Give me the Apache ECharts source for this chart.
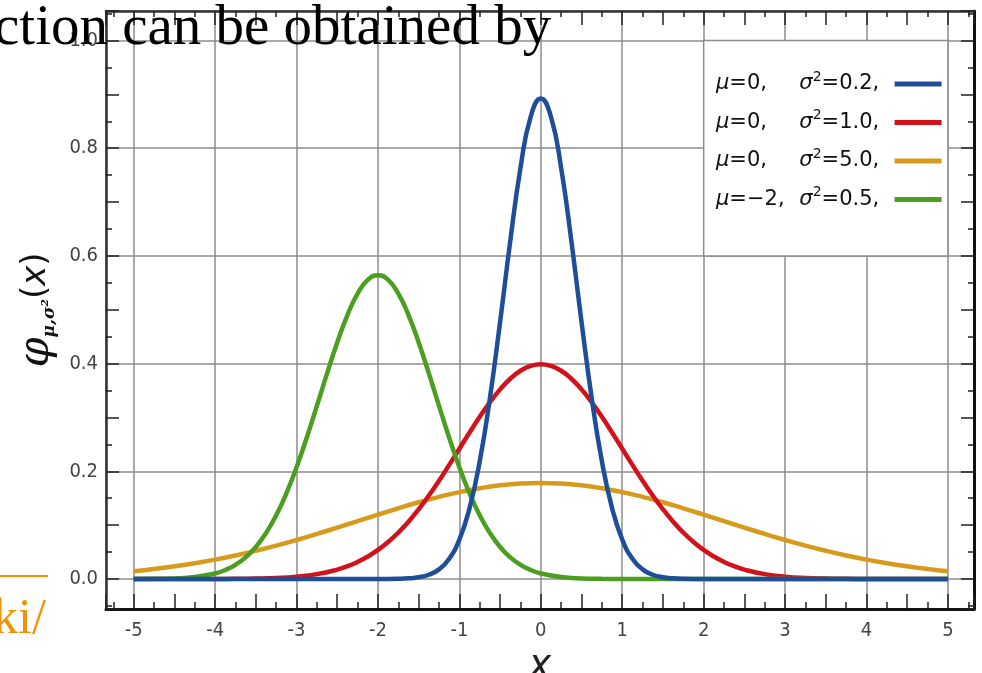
<!DOCTYPE html>
<html><head><meta charset="utf-8">
<script src="https://cdn.jsdelivr.net/npm/echarts@6/dist/echarts.min.js"></script>
<style>html,body{margin:0;padding:0;background:#fff}#c{width:982px;height:673px}</style>
</head><body><div id="c"></div><script>
// ---- data ----
const orangeX = [-5,-4.75,-4.5,-4.25,-4,-3.75,-3.5,-3.25,-3,-2.75,-2.5,-2.25,-2,-1.75,-1.5,-1.25,-1,-0.75,-0.5,-0.25,0,
  0.25,0.5,0.75,1,1.25,1.5,1.75,2,2.25,2.5,2.75,3,3.25,3.5,3.75,4,4.25,4.5,4.75,5];
const orangeY = [0.0146,0.0187,0.0235,0.0293,0.036,0.0437,0.0524,0.062,0.0725,0.0837,0.0955,0.1075,0.1196,0.1313,0.1425,0.1526,0.1614,0.1686,0.174,0.1773,0.1784,
  0.1773,0.174,0.1686,0.1614,0.1526,0.1425,0.1313,0.1196,0.1075,0.0955,0.0837,0.0725,0.062,0.0524,0.0437,0.036,0.0293,0.0235,0.0187,0.0146];
const redX = [-5,-4.5,-4,-3.75,-3.5,-3.25,-3,-2.75,
  -2.5,-2.375,-2.25,-2.125,-2,-1.875,-1.75,-1.625,-1.5,-1.375,-1.25,-1.125,-1,-0.875,-0.75,-0.625,-0.5,-0.375,-0.25,-0.125,0,
  0.125,0.25,0.375,0.5,0.625,0.75,0.875,1,1.125,1.25,1.375,1.5,1.625,1.75,1.875,2,2.125,2.25,2.375,2.5,
  2.75,3,3.25,3.5,3.75,4,4.5,5];
const redY = [0,0,0.0001,0.0004,0.0009,0.002,0.0044,0.0091,
  0.0175,0.0238,0.0317,0.0417,0.054,0.0688,0.0863,0.1065,0.1295,0.155,0.1826,0.2119,0.242,0.2721,0.3011,0.3282,0.3521,0.3719,0.3867,0.3958,0.3989,
  0.3958,0.3867,0.3719,0.3521,0.3282,0.3011,0.2721,0.242,0.2119,0.1826,0.155,0.1295,0.1065,0.0863,0.0688,0.054,0.0417,0.0317,0.0238,0.0175,
  0.0091,0.0044,0.002,0.0009,0.0004,0.0001,0,0];
const greenX = [-5,-4.75,-4.5,-4.25,
  -4,-3.875,-3.75,-3.625,-3.5,-3.375,-3.25,-3.125,-3,-2.875,-2.75,-2.625,-2.5,-2.375,-2.25,-2.125,-2,
  -1.875,-1.75,-1.625,-1.5,-1.375,-1.25,-1.125,-1,-0.875,-0.75,-0.625,-0.5,-0.375,-0.25,-0.125,0,
  0.25,0.5,0.75,1,2,3,4,5];
const greenY = [0.0001,0.0003,0.0011,0.0036,
  0.0103,0.0168,0.0264,0.0402,0.0595,0.0852,0.1183,0.1591,0.2076,0.2624,0.3215,0.3818,0.4394,0.4902,0.53,0.5555,0.5642,
  0.5555,0.53,0.4902,0.4394,0.3818,0.3215,0.2624,0.2076,0.1591,0.1183,0.0852,0.0595,0.0402,0.0264,0.0168,0.0103,
  0.0036,0.0011,0.0003,0.0001,0,0,0,0];
const blueX = [-5,-4,-3,-2.5,-2,-1.75,-1.625,-1.5,-1.375,-1.25,-1.125,-1,-0.875,-0.75,-0.625,-0.5,-0.375,-0.25,-0.125,0,
  0.125,0.25,0.375,0.5,0.625,0.75,0.875,1,1.125,1.25,1.375,1.5,1.625,1.75,2,2.5,3,4,5];
const blueY = [0,0,0,0,0,0.0004,0.0012,0.0032,0.0079,0.0179,0.0377,0.0732,0.1316,0.2187,0.336,0.4775,0.6277,0.763,0.858,0.8921,
  0.858,0.763,0.6277,0.4775,0.336,0.2187,0.1316,0.0732,0.0377,0.0179,0.0079,0.0032,0.0012,0.0004,0,0,0,0,0];
const seriesKeys = ['blue','red','orange','green'];
const muText = ['0','0','0','\u22122'];
const varText = ['0.2','1.0','5.0','0.5'];
const legendBoxX = [2,5];
const legendBoxY = [1.0,0.6];

// ---- layout / style ----
const XMIN=-5.34, XMAX=5.32, YMIN=-0.0557, YMAX=1.0548;
const LBL = "'Liberation Sans Narrow','DejaVu Sans Condensed',sans-serif";
const COND = "'DejaVu Sans Condensed','DejaVu Sans',sans-serif";
const DV = "'DejaVu Sans',sans-serif";
const colors = {blue:'#1f4e98', red:'#d2111a', orange:'#d89a1c', green:'#4b9e1f'};
const pairs = (xs, ys) => xs.map((x,i)=>[x, ys[i]]);

function xTick(pos, step, len){
  return {type:'value', min:XMIN, max:XMAX, position:pos, minInterval:step, maxInterval:step,
    axisLine:{show:false,onZero:false}, axisTick:{show:true,inside:true,length:len,lineStyle:{color:'#222',width:1.5}},
    axisLabel:{show:false}, splitLine:{show:false}};
}
function yTick(pos, step, len){
  return {type:'value', min:YMIN, max:YMAX, position:pos, minInterval:step, maxInterval:step,
    axisLine:{show:false,onZero:false}, axisTick:{show:true,inside:true,length:len,lineStyle:{color:'#222',width:1.5}},
    axisLabel:{show:false}, splitLine:{show:false}};
}
const gridLine = {show:true, lineStyle:{color:'#8c8c8c', width:1.5}};
const legTxt = (extra) => Object.assign({fontFamily:DV, fontSize:21, color:'#111', lineHeight:28, align:'left'}, extra||{});

const chart = echarts.init(document.getElementById('c'), null, {renderer:'canvas'});
const option = {
  backgroundColor:'#fff',
  animation:false,
  grid:{left:106, top:11, right:8, bottom:64, containLabel:false, outerBoundsMode:'none'},
  xAxis:[
    {type:'value', min:XMIN, max:XMAX, position:'bottom', minInterval:1, maxInterval:1,
     axisLine:{show:true,onZero:false,lineStyle:{color:'#111',width:3}},
     axisTick:{show:false}, splitLine:gridLine,
     axisLabel:{show:true, margin:12, color:'#444', fontSize:20, fontFamily:LBL, showMinLabel:false, showMaxLabel:false},
     name:'x', nameLocation:'middle', nameGap:9,
     nameTextStyle:{fontFamily:COND, fontStyle:'italic', fontSize:42, color:'#222'}},
    xTick('bottom',0.5,15), xTick('bottom',0.25,7),
    {type:'value', min:XMIN, max:XMAX, position:'top', minInterval:1, maxInterval:1,
     axisLine:{show:true,onZero:false,lineStyle:{color:'#333',width:2.5}},
     axisTick:{show:false}, axisLabel:{show:false}, splitLine:{show:false}},
    xTick('top',0.5,14), xTick('top',0.25,6)
  ],
  yAxis:[
    {type:'value', min:YMIN, max:YMAX, position:'left', minInterval:0.2, maxInterval:0.2,
     axisLine:{show:true,onZero:false,lineStyle:{color:'#333',width:2.5}},
     axisTick:{show:false}, splitLine:gridLine,
     axisLabel:{show:true, margin:8, color:'#444', fontSize:20, fontFamily:LBL, showMinLabel:false, showMaxLabel:false,
       formatter:v=>v.toFixed(1)},
     name:'{phi|\u03c6}{sub|\u03bc,\u03c3\u00b2}{p|(}{xi|x}{p|)}', nameLocation:'middle', nameGap:48, nameRotate:90,
     nameTextStyle:{rich:{
       phi:{fontFamily:"'DejaVu Serif'", fontStyle:'italic', fontSize:43, color:'#111'},
       sub:{fontFamily:"'DejaVu Serif'", fontStyle:'italic', fontWeight:'bold', fontSize:17, color:'#111', verticalAlign:'bottom'},
       p:{fontFamily:DV, fontSize:34, color:'#111'},
       xi:{fontFamily:DV, fontStyle:'italic', fontSize:34, color:'#111'}
     }}},
    yTick('left',0.1,13), yTick('left',0.05,6),
    {type:'value', min:YMIN, max:YMAX, position:'right', minInterval:0.2, maxInterval:0.2,
     axisLine:{show:true,onZero:false,lineStyle:{color:'#111',width:3}},
     axisTick:{show:false}, axisLabel:{show:false}, splitLine:{show:false}},
    yTick('right',0.1,13), yTick('right',0.05,6)
  ],
  legend:{
    orient:'vertical', left:716, top:70, align:'right', icon:'rect', itemWidth:47, itemHeight:5,
    itemGap:14, padding:0, selectedMode:false, data:seriesKeys,
    formatter:name=>{const i=seriesKeys.indexOf(name);
      return `{mu|\u03bc}{a|=${muText[i]},}{sg|\u03c3}{sup|2}{b|=${varText[i]},}`;},
    textStyle:{rich:{
      mu:legTxt({fontStyle:'italic'}),
      a:legTxt({width:70}),
      sg:legTxt({fontStyle:'italic'}),
      sup:{fontFamily:DV, fontSize:14, color:'#111', verticalAlign:'top', align:'left'},
      b:legTxt({width:68})
    }}
  },
  series:[
    {name:'blue', type:'line', data:pairs(blueX, blueY), smooth:true, showSymbol:false, symbol:'none',
     lineStyle:{color:colors.blue,width:4.5}, itemStyle:{color:colors.blue}, z:6},
    {name:'red', type:'line', data:pairs(redX, redY), smooth:true, showSymbol:false, symbol:'none',
     lineStyle:{color:colors.red,width:4.5}, itemStyle:{color:colors.red}, z:4},
    {name:'orange', type:'line', data:pairs(orangeX, orangeY), smooth:true, showSymbol:false, symbol:'none',
     lineStyle:{color:colors.orange,width:4.5}, itemStyle:{color:colors.orange}, z:3,
     markArea:{silent:true, label:{show:false},
       itemStyle:{color:'#fff', opacity:1, borderColor:'#8c8c8c', borderWidth:1.5},
       data:[[{coord:[legendBoxX[0], legendBoxY[0]]},{coord:[legendBoxX[1], legendBoxY[1]]}]]}},
    {name:'green', type:'line', data:pairs(greenX, greenY), smooth:true, showSymbol:false, symbol:'none',
     lineStyle:{color:colors.green,width:4.5}, itemStyle:{color:colors.green}, z:5}
  ],
  graphic:[
    {type:'text', x:-6, y:1, z:100, style:{text:'ction can be obtained by', font:"57px 'Liberation Serif'", fill:'#000'}},
    {type:'line', z:100, shape:{x1:0,y1:576,x2:48,y2:576}, style:{stroke:'#f39200', lineWidth:2}},
    {type:'text', x:-7, y:595, z:100, style:{text:'ki/', font:"50px 'Liberation Serif'", fill:'#f39200'}}
  ]
};
chart.setOption(option);
</script></body></html>
